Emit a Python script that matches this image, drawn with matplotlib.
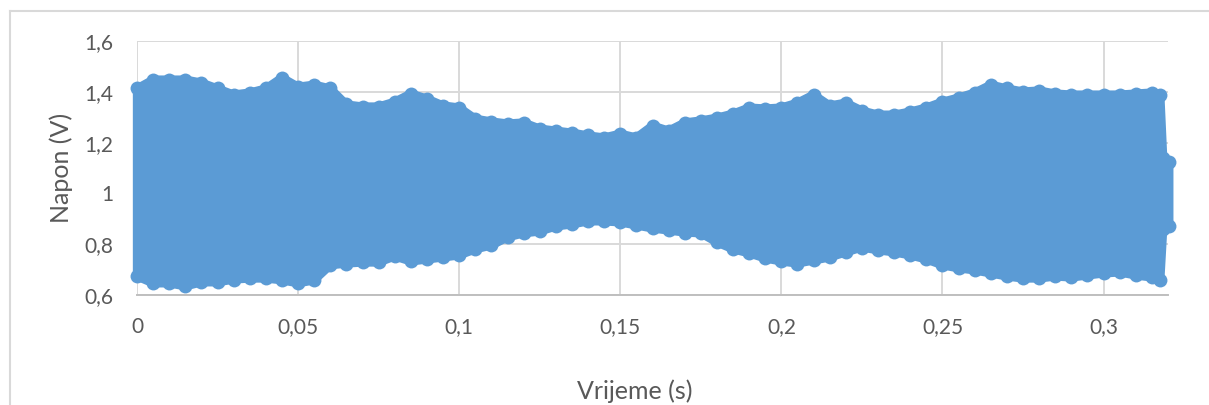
import matplotlib
matplotlib.use("Agg")
import matplotlib.pyplot as plt
from matplotlib.lines import Line2D
from matplotlib.ticker import FuncFormatter

# Envelope of the dense voltage signal (peak values)
time_s = [0.000, 0.005, 0.010, 0.015, 0.020, 0.025, 0.030, 0.035, 0.040, 0.045,
          0.050, 0.055, 0.060, 0.065, 0.070, 0.075, 0.080, 0.085, 0.090, 0.095,
          0.100, 0.105, 0.110, 0.115, 0.120, 0.125, 0.130, 0.135, 0.140, 0.145,
          0.150, 0.155, 0.160, 0.165, 0.170, 0.175, 0.180, 0.185, 0.190, 0.195,
          0.200, 0.205, 0.210, 0.215, 0.220, 0.225, 0.230, 0.235, 0.240, 0.245,
          0.250, 0.255, 0.260, 0.265, 0.270, 0.275, 0.280, 0.285, 0.290, 0.295,
          0.300, 0.305, 0.310, 0.315, 0.3176, 0.3185, 0.3204]
upper_v = [1.413, 1.448, 1.448, 1.448, 1.436, 1.413, 1.389, 1.397, 1.413, 1.456,
           1.420, 1.428, 1.413, 1.350, 1.342, 1.342, 1.361, 1.393, 1.373, 1.346,
           1.338, 1.294, 1.283, 1.275, 1.279, 1.255, 1.247, 1.239, 1.228, 1.220,
           1.235, 1.220, 1.267, 1.247, 1.279, 1.287, 1.298, 1.314, 1.338, 1.334,
           1.338, 1.357, 1.389, 1.346, 1.357, 1.326, 1.310, 1.310, 1.322, 1.338,
           1.361, 1.377, 1.397, 1.428, 1.413, 1.401, 1.405, 1.393, 1.389, 1.389,
           1.389, 1.389, 1.393, 1.397, 1.389, 1.140, 1.125]
lower_v = [0.673, 0.646, 0.646, 0.634, 0.650, 0.650, 0.661, 0.665, 0.665, 0.658,
           0.646, 0.658, 0.717, 0.724, 0.728, 0.728, 0.752, 0.732, 0.740, 0.748,
           0.756, 0.780, 0.795, 0.827, 0.843, 0.850, 0.870, 0.878, 0.890, 0.890,
           0.886, 0.874, 0.862, 0.854, 0.846, 0.843, 0.807, 0.780, 0.764, 0.744,
           0.732, 0.724, 0.736, 0.748, 0.768, 0.787, 0.776, 0.768, 0.756, 0.740,
           0.717, 0.705, 0.697, 0.685, 0.673, 0.665, 0.665, 0.673, 0.669, 0.677,
           0.685, 0.689, 0.677, 0.669, 0.658, 0.860, 0.870]

x_ticks = [0, 0.05, 0.1, 0.15, 0.2, 0.25, 0.3]
y_ticks = [0.6, 0.8, 1.0, 1.2, 1.4, 1.6]

BLUE = "#5B9BD5"
GRID = "#D9D9D9"
TXT = "#595959"
FONT = "Lato"

W, H, DPI = 1209, 405, 100
fig = plt.figure(figsize=(W / DPI, H / DPI), dpi=DPI)
fig.patch.set_facecolor("white")

# outer chart border
fig.add_artist(Line2D([10 / W, 10 / W], [0, 1 - 11 / H], color=GRID, lw=1.5,
                      transform=fig.transFigure))
fig.add_artist(Line2D([10 / W, 1], [1 - 11 / H, 1 - 11 / H], color=GRID, lw=1.5,
                      transform=fig.transFigure))

left, right, top, bottom = 137, 1168, 41, 295
ax = fig.add_axes([left / W, 1 - bottom / H, (right - left) / W, (bottom - top) / H])
ax.set_xlim(0, 0.32)
ax.set_ylim(0.6, 1.6)
ax.set_xticks(x_ticks)
ax.set_yticks(y_ticks)

def comma_fmt(v, pos):
    s = f"{v:.2f}".rstrip("0").rstrip(".")
    return s.replace(".", ",")

ax.xaxis.set_major_formatter(FuncFormatter(comma_fmt))
ax.yaxis.set_major_formatter(FuncFormatter(comma_fmt))
ax.grid(True, color=GRID, lw=1.4)
ax.set_axisbelow(True)
for s in ["top", "right", "left"]:
    ax.spines[s].set_visible(False)
ax.spines["bottom"].set_color("#BFBFBF")
ax.spines["bottom"].set_linewidth(1.4)
ax.tick_params(axis="both", length=0, labelsize=15, labelcolor=TXT)
ax.tick_params(axis="y", pad=17)
ax.tick_params(axis="x", pad=16)
for lab in ax.get_xticklabels() + ax.get_yticklabels():
    lab.set_fontfamily(FONT)

# signal band: polygon from the envelope, with round edges and round markers
poly_t = list(time_s) + list(time_s[::-1])
poly_v = list(upper_v) + list(lower_v[::-1])
ax.fill(poly_t, poly_v, facecolor=BLUE, edgecolor=BLUE, lw=6,
        joinstyle="round", clip_on=False, zorder=3)
for series in (upper_v, lower_v):
    ax.plot(time_s, series, "o", color=BLUE, ms=10, mew=0, clip_on=False, zorder=4)

fig.text(61 / W, 1 - 168 / H, "Napon (V)", rotation=90, ha="center", va="center",
         fontsize=18, color=TXT, family=FONT)
fig.text(635 / W, 1 - 399 / H, "Vrijeme (s)", ha="center", va="baseline",
         fontsize=18, color=TXT, family=FONT)

fig.savefig("out.png", dpi=DPI, facecolor="white")
